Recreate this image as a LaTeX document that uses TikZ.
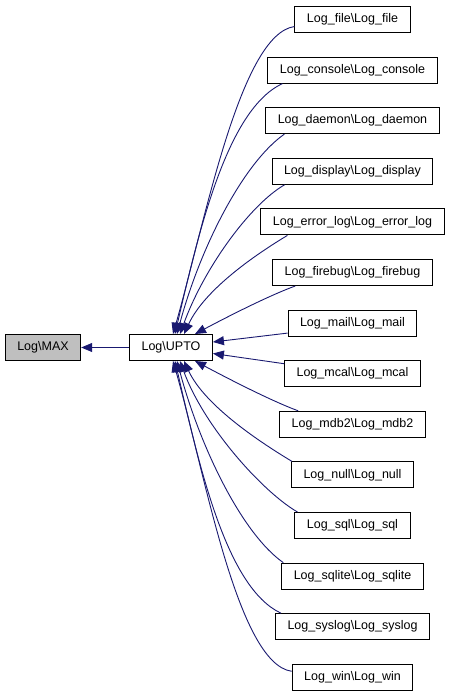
\documentclass[tikz,border=0pt]{standalone}
\usepackage{fontspec}
\setmainfont{Liberation Sans}
\usetikzlibrary{arrows.meta}
\definecolor{edgeblue}{HTML}{191970}
\definecolor{maxgray}{HTML}{BFBFBF}

\begin{document}
\begin{tikzpicture}[x=1pt,y=1pt]
\tikzset{
    vertex/.style={rectangle,draw,line width=1pt,minimum height=26pt,inner xsep=12pt,inner ysep=0pt,font=\fontsize{12.5pt}{15pt}\selectfont},
    edge/.style={-{Triangle[length=11pt,width=9pt]},edgeblue,line width=0.9pt}
}
\useasboundingbox (0,0) rectangle (449,-696);
  % vertices
\node[vertex,fill=maxgray] (max) at (43,-347.5) {Log\textbackslash MAX};
\node[vertex] (upto) at (171,-347.5) {Log\textbackslash UPTO};
\node[vertex] (file) at (352.5,-19.5) {Log\_file\textbackslash Log\_file};
\node[vertex] (console) at (352.5,-70.1) {Log\_console\textbackslash Log\_console};
\node[vertex] (daemon) at (352.5,-120.7) {Log\_daemon\textbackslash Log\_daemon};
\node[vertex] (display) at (352.5,-171.3) {Log\_display\textbackslash Log\_display};
\node[vertex] (errorlog) at (352.5,-221.9) {Log\_error\_log\textbackslash Log\_error\_log};
\node[vertex] (firebug) at (352.5,-272.5) {Log\_firebug\textbackslash Log\_firebug};
\node[vertex] (mail) at (352.5,-323.1) {Log\_mail\textbackslash Log\_mail};
\node[vertex] (mcal) at (352.5,-373.7) {Log\_mcal\textbackslash Log\_mcal};
\node[vertex] (mdb2) at (352.5,-424.3) {Log\_mdb2\textbackslash Log\_mdb2};
\node[vertex] (null) at (352.5,-474.9) {Log\_null\textbackslash Log\_null};
\node[vertex] (sql) at (352.5,-525.5) {Log\_sql\textbackslash Log\_sql};
\node[vertex] (sqlite) at (352.5,-576.1) {Log\_sqlite\textbackslash Log\_sqlite};
\node[vertex] (syslog) at (352.5,-626.7) {Log\_syslog\textbackslash Log\_syslog};
\node[vertex] (win) at (352.5,-677.3) {Log\_win\textbackslash Log\_win};
% edges
\path[edge]
(upto) edge (max)
([yshift=-7pt]file.west) edge[out=188,in=74,out distance=55pt,in distance=115pt] ([xshift=2pt]upto.north)
([xshift=15pt]console.south west) edge[out=205,in=77,out distance=60pt,in distance=110pt] ([xshift=4pt]upto.north)
([xshift=19pt]daemon.south west) edge[out=215,in=75,out distance=50pt,in distance=90pt] ([xshift=6pt]upto.north)
([xshift=13pt]display.south west) edge[out=210,in=70,out distance=40pt,in distance=70pt] ([xshift=9pt]upto.north)
([xshift=27pt]errorlog.south west) edge[out=211,in=65,out distance=35pt,in distance=50pt] ([xshift=13pt]upto.north)
([xshift=23pt]firebug.south west) edge[out=200,in=28,out distance=30pt,in distance=30pt] ([xshift=24pt]upto.north)
([yshift=-10pt]mail.west) edge ([yshift=5.5pt]upto.east)
([yshift=10pt]mcal.west) edge ([yshift=-6pt]upto.east)
([xshift=19pt]mdb2.north west) edge[out=160,in=-28,out distance=30pt,in distance=30pt] ([xshift=24pt]upto.south)
([xshift=1pt]null.north west) edge[out=149,in=-65,out distance=35pt,in distance=50pt] ([xshift=13pt]upto.south)
([xshift=3pt]sql.north west) edge[out=150,in=-70,out distance=40pt,in distance=70pt] ([xshift=9pt]upto.south)
([xshift=2pt]sqlite.north west) edge[out=145,in=-75,out distance=50pt,in distance=90pt] ([xshift=6pt]upto.south)
([xshift=6pt]syslog.north west) edge[out=155,in=-77,out distance=60pt,in distance=110pt] ([xshift=4pt]upto.south)
([yshift=6pt]win.west) edge[out=172,in=-74,out distance=55pt,in distance=115pt] ([xshift=2pt]upto.south)
;
\end{tikzpicture}
\end{document}
